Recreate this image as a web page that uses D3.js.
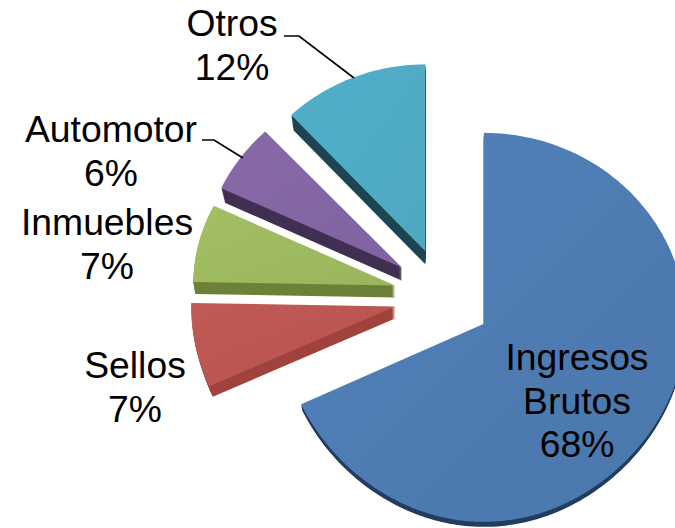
<!DOCTYPE html>
<html lang="es">
<head>
    <meta charset="UTF-8">
    <title>Ingresos</title>
    <script src="https://d3js.org/d3.v7.min.js"></script>
    <style>
        body { margin: 0; background: #ffffff; }
        svg { display: block; }
        text { font-family: "Liberation Sans", Arial, sans-serif; font-size: 37.3px; fill: #000000; text-anchor: middle; }
    </style>
</head>
<body>
<svg id="svg" width="675" height="528"></svg>

<script>
// values
const categories = ['Ingresos Brutos', 'Sellos', 'Inmuebles', 'Automotor', 'Otros'];
const values = [68, 7, 7, 6, 12];

// slice look
const topLight = ['#5282bc', '#c05a56', '#a3bf63', '#8769a7', '#52aec8'];
const topDark = ['#4a76aa', '#b85250', '#9ab65c', '#7f64a0', '#4ea8c2'];
const wallColors = ['#233d60', '#a0433e', '#6d8039', '#413053', '#1c4452'];

// the pie is tilted and each slice is pulled out
const center = [440, 296];
const explode = [52, 48, 48, 48, 48];
const nudgeX = [0, 2, 2, 1, 3];
const tilt = [0, 1, 1, 0, 0];
const radiusX = [202, 204, 202, 200, 196];
const radiusUp = [191, 188, 180, 187, 187];
const radiusDown = [187, 195, 188, 188, 188];
const bulge = [11, 0, 0, 0, 0];
const depth = [6, 12, 12, 13, 13];
const shrink = [0.005, 0.02, 0.01, 0.02, 0.015];

// label placement
const labelLines = [['Ingresos', 'Brutos', '68%'], ['Sellos', '7%'], ['Inmuebles', '7%'], ['Automotor', '6%'], ['Otros', '12%']];
const labelX = [577, 135, 107, 111, 232];
const labelY = [370, 378, 235, 142, 36];
const lineGap = 43.5;
const leaders = [
    [[284, 36], [299, 36], [354, 78]],
    [[202, 140], [214, 140], [243, 158]]
];

let svg = d3.select('#svg');
let defs = svg.append('defs');

let pie = d3.pie().sort(null).startAngle(0).endAngle(2 * Math.PI);
let slices = pie(values);

let line = d3.line();

// outline of one slice around its own apex, k makes the lower copies a bit smaller
function sliceOutline(d, i, k) {
    let steps = Math.ceil((d.endAngle - d.startAngle) / 0.02);
    let angles = d3.range(steps + 1).map(s => d.startAngle + (d.endAngle - d.startAngle) * s / steps);
    let pts = angles.map(a => {
        let c = Math.cos(a);
        let ry = c > 0 ? radiusUp[i] : radiusDown[i] + bulge[i] * c * c;
        return [Math.sin(a) * radiusX[i] * k, -c * ry * k];
    });
    return line([[0, 0]].concat(pts)) + 'Z';
}

slices.forEach((d, i) => {
    let grad = defs.append('linearGradient')
        .attr('id', 'top' + i)
        .attr('x1', 0).attr('y1', 0)
        .attr('x2', 1).attr('y2', 1);
    grad.append('stop').attr('offset', '0%').attr('stop-color', topLight[i]);
    grad.append('stop').attr('offset', '100%').attr('stop-color', topDark[i]);
});

let pieGroup = svg.append('g');

slices.forEach((d, i) => {
    let mid = (d.startAngle + d.endAngle) / 2;
    let ax = center[0] + Math.sin(mid) * explode[i] + nudgeX[i];
    let ay = center[1] - Math.cos(mid) * explode[i];
    let g = pieGroup.append('g')
        .attr('class', 'slice')
        .attr('transform', 'translate(' + ax + ',' + ay + ')');

    // side wall: stacked copies going down
    d3.range(depth[i], 0, -1).forEach(t => {
        g.append('path')
            .attr('d', sliceOutline(d, i, 1 - shrink[i] * t / depth[i]))
            .attr('transform', 'translate(0,' + t + ') rotate(' + tilt[i] + ')')
            .attr('fill', wallColors[i]);
    });

    g.append('path')
        .attr('d', sliceOutline(d, i, 1))
        .attr('transform', 'rotate(' + tilt[i] + ')')
        .attr('fill', 'url(#top' + i + ')');
});

// leader lines
svg.selectAll('.leader')
    .data(leaders)
    .enter()
    .append('path')
    .attr('class', 'leader')
    .attr('d', line)
    .attr('fill', 'none')
    .attr('stroke', '#000000')
    .attr('stroke-width', 1.7);

// labels
categories.forEach((c, i) => {
    svg.selectAll('.label' + i)
        .data(labelLines[i])
        .enter()
        .append('text')
        .attr('class', 'label' + i)
        .attr('x', labelX[i])
        .attr('y', (t, j) => labelY[i] + j * lineGap)
        .text(t => t);
});
</script>
</body>
</html>
